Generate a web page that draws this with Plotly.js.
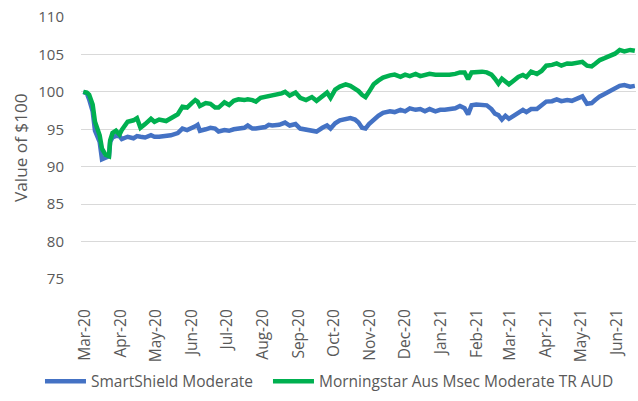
<!DOCTYPE html>
<html>
<head>
<meta charset="utf-8">
<script src="https://cdn.plot.ly/plotly-3.0.1.min.js"></script>
<style>html,body{margin:0;padding:0;background:#fff;}#chart{width:638px;height:401px;}</style>
</head>
<body>
<div id="chart"></div>
<script>
const dates = ["2020-02-29","2020-03-03","2020-03-05","2020-03-08","2020-03-10","2020-03-14","2020-03-16","2020-03-19","2020-03-22","2020-03-23","2020-03-25","2020-03-28","2020-03-31","2020-04-02","2020-04-07","2020-04-12","2020-04-15","2020-04-18","2020-04-22","2020-04-27","2020-04-30","2020-05-04","2020-05-10","2020-05-14","2020-05-20","2020-05-24","2020-05-28","2020-06-01","2020-06-04","2020-06-06","2020-06-08","2020-06-13","2020-06-17","2020-06-21","2020-06-24","2020-06-29","2020-07-03","2020-07-07","2020-07-11","2020-07-16","2020-07-19","2020-07-23","2020-07-26","2020-07-30","2020-08-03","2020-08-06","2020-08-09","2020-08-15","2020-08-17","2020-08-20","2020-08-24","2020-08-29","2020-09-02","2020-09-07","2020-09-12","2020-09-16","2020-09-21","2020-09-25","2020-09-28","2020-10-02","2020-10-06","2020-10-11","2020-10-15","2020-10-19","2020-10-22","2020-10-25","2020-10-28","2020-10-31","2020-11-04","2020-11-08","2020-11-12","2020-11-18","2020-11-22","2020-11-27","2020-12-01","2020-12-05","2020-12-10","2020-12-14","2020-12-18","2020-12-22","2020-12-27","2020-12-31","2021-01-04","2021-01-08","2021-01-13","2021-01-17","2021-01-21","2021-01-24","2021-01-27","2021-01-31","2021-02-05","2021-02-09","2021-02-13","2021-02-16","2021-02-19","2021-02-22","2021-02-25","2021-02-28","2021-03-04","2021-03-08","2021-03-12","2021-03-15","2021-03-19","2021-03-24","2021-03-28","2021-04-01","2021-04-06","2021-04-10","2021-04-14","2021-04-19","2021-04-23","2021-04-27","2021-05-02","2021-05-06","2021-05-10","2021-05-13","2021-05-17","2021-05-21","2021-05-26","2021-05-30","2021-06-03","2021-06-07","2021-06-12","2021-06-16"];

const smartShield = [100.0,99.8,99.0,97.4,94.8,93.3,91.0,91.2,91.4,93.3,93.9,94.1,94.1,93.7,94.0,93.8,94.1,94.0,93.9,94.2,94.0,94.0,94.1,94.2,94.5,95.1,94.9,95.1,95.4,95.6,94.8,95.0,95.2,95.1,94.7,94.9,94.8,95.0,95.1,95.2,95.5,95.1,95.1,95.2,95.3,95.6,95.5,95.6,95.7,95.9,95.5,95.7,95.1,95.0,94.9,94.7,95.2,95.5,95.1,95.8,96.2,96.4,96.5,96.3,95.9,95.2,95.1,95.7,96.3,96.8,97.2,97.4,97.3,97.6,97.4,97.8,97.6,97.7,97.4,97.7,97.4,97.6,97.6,97.7,97.8,98.1,97.8,97.0,98.2,98.3,98.2,98.2,97.7,97.1,96.9,96.3,96.8,96.4,96.8,97.25,97.6,97.3,97.7,97.7,98.2,98.7,98.75,99.0,98.75,98.9,98.8,99.0,99.4,98.4,98.5,98.9,99.4,99.7,100.1,100.4,100.8,100.9,100.7,100.8];

const morningstar = [100.0,99.9,99.6,98.3,96.0,94.2,92.4,91.6,91.4,93.5,94.5,94.8,94.3,94.9,96.0,96.2,96.5,95.2,95.7,96.4,96.0,96.3,96.1,96.5,97.0,98.0,97.9,98.5,98.9,98.7,98.1,98.5,98.4,97.9,97.9,98.6,98.25,98.8,99.0,98.9,99.0,98.9,98.7,99.2,99.3,99.4,99.5,99.6,99.8,100.0,99.5,99.9,99.2,98.9,99.3,98.8,99.5,99.9,99.2,100.3,100.7,101.0,100.8,100.4,100.1,99.6,99.3,100.0,101.0,101.5,101.9,102.2,102.3,102.0,102.3,102.1,102.4,102.1,102.3,102.4,102.3,102.3,102.2,102.3,102.4,102.6,102.6,101.7,102.6,102.7,102.7,102.6,102.3,101.75,101.1,101.75,101.3,101.0,101.5,102.0,102.25,102.0,102.7,102.4,102.8,103.5,103.6,103.8,103.5,103.8,103.75,103.8,104.0,103.5,103.4,103.75,104.25,104.5,104.75,105.1,105.6,105.4,105.6,105.5];

const seriesNames = ["SmartShield Moderate", "Morningstar Aus Msec Moderate TR AUD"];
const yTickVals = [75, 80, 85, 90, 95, 100, 105, 110];
const yAxisTitle = "Value of $100";

const FONT = "Open Sans, Noto Sans, sans-serif";
const GREY = "#595959";

const traces = [
  {x: dates, y: smartShield, name: seriesNames[0], type: "scatter", mode: "lines",
   line: {color: "#4472C4", width: 4.5}, legend: "legend"},
  {x: dates, y: morningstar, name: seriesNames[1], type: "scatter", mode: "lines",
   line: {color: "#00B050", width: 4.5}, legend: "legend2"}
];

const legendBase = {orientation: "h", xanchor: "left", y: -0.392, yanchor: "middle",
  font: {family: FONT, size: 15.5, color: GREY}, itemwidth: 41, bgcolor: "rgba(0,0,0,0)"};

const layout = {
  width: 638, height: 401,
  margin: {l: 81, r: 2, t: 17, b: 104},
  paper_bgcolor: "#fff", plot_bgcolor: "#fff",
  font: {family: FONT, size: 15, color: GREY},
  showlegend: true,
  legend: Object.assign({}, legendBase, {x: -0.0739}),
  legend2: Object.assign({}, legendBase, {x: 0.3369}),
  xaxis: {type: "date", range: ["2020-02-27", "2021-06-17"],
          tick0: "2020-03-01", dtick: "M1", tickformat: "%b-%y", tickangle: -90,
          showgrid: false, zeroline: false, showline: false,
          ticks: "outside", ticklen: 17, tickcolor: "rgba(0,0,0,0)", ticklabelstandoff: 6,
          tickfont: {family: FONT, size: 15.5, color: GREY}, fixedrange: true},
  yaxis: {range: [75, 110], tickvals: yTickVals, showgrid: true, gridcolor: "#d9d9d9", gridwidth: 1,
          zeroline: false, showline: false, ticks: "", ticklabelstandoff: 16,
          tickfont: {family: FONT, size: 15, color: GREY}},
  annotations: [{text: yAxisTitle, xref: "paper", yref: "paper", x: -0.1099, y: 0.5,
                 xanchor: "center", yanchor: "middle", textangle: -90, showarrow: false,
                 font: {family: FONT, size: 17.2, color: GREY}}]
};

Plotly.newPlot("chart", traces, layout, {displayModeBar: false, staticPlot: true});
</script>
</body>
</html>
